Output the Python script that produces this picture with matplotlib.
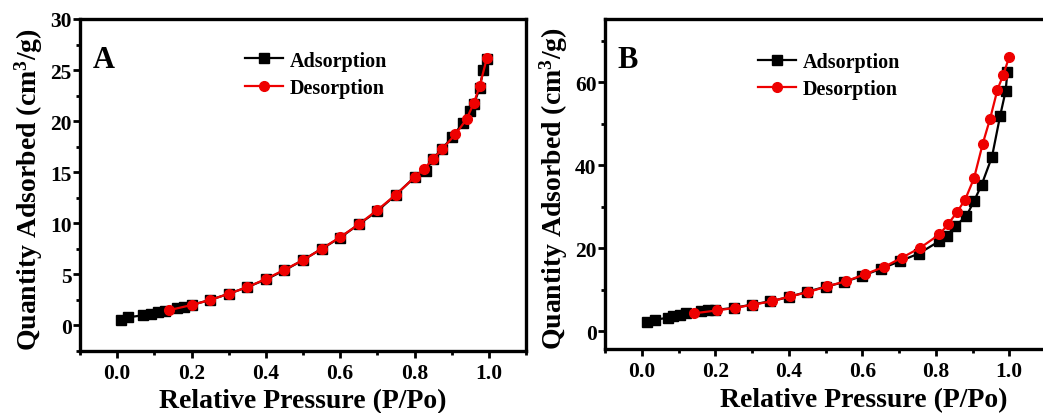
import matplotlib
matplotlib.use("Agg")
import matplotlib.pyplot as plt
from matplotlib.ticker import MultipleLocator

plt.rcParams['font.family'] = ['Liberation Serif', 'DejaVu Serif']
plt.rcParams['font.weight'] = 'bold'
plt.rcParams['mathtext.default'] = 'regular'

# Panel A data
a_ads_x = [0.01, 0.03, 0.07, 0.09, 0.11, 0.13, 0.16, 0.18, 0.20, 0.25, 0.30, 0.35, 0.40, 0.45,
           0.50, 0.55, 0.60, 0.65, 0.70, 0.75, 0.80, 0.83, 0.85, 0.875, 0.90, 0.93, 0.95,
           0.96, 0.975, 0.985, 0.995]
a_ads_y = [0.5, 0.8, 1.0, 1.15, 1.3, 1.45, 1.7, 1.85, 2.0, 2.5, 3.1, 3.75, 4.5, 5.4,
           6.4, 7.5, 8.6, 9.9, 11.2, 12.8, 14.5, 15.1, 16.3, 17.3, 18.4, 19.8, 21.0,
           21.7, 23.2, 25.0, 26.1]
a_des_x = [0.995, 0.975, 0.96, 0.94, 0.91, 0.875, 0.85, 0.825, 0.80, 0.75, 0.70, 0.65,
           0.60, 0.55, 0.50, 0.45, 0.40, 0.35, 0.30, 0.25, 0.20, 0.14]
a_des_y = [26.2, 23.4, 21.8, 20.2, 18.7, 17.3, 16.3, 15.3, 14.5, 12.8, 11.3, 9.9,
           8.65, 7.5, 6.4, 5.45, 4.55, 3.75, 3.1, 2.5, 2.0, 1.5]

# Panel B data
b_ads_x = [0.014, 0.036, 0.072, 0.086, 0.104, 0.12, 0.16, 0.18, 0.20, 0.25, 0.30, 0.35,
           0.40, 0.45, 0.50, 0.55, 0.60, 0.65, 0.704, 0.754, 0.81, 0.83, 0.853, 0.883,
           0.904, 0.925, 0.953, 0.975, 0.99, 0.995]
b_ads_y = [2.2, 2.8, 3.2, 3.6, 4.0, 4.4, 4.8, 5.0, 5.1, 5.6, 6.4, 7.2,
           8.2, 9.5, 10.7, 11.8, 13.3, 15.0, 16.9, 18.7, 21.7, 23.0, 25.3, 27.7,
           31.3, 35.3, 42.0, 51.8, 57.8, 62.4]
b_des_x = [1.0, 0.984, 0.968, 0.948, 0.928, 0.904, 0.88, 0.858, 0.833, 0.81, 0.758,
           0.708, 0.66, 0.607, 0.555, 0.504, 0.453, 0.404, 0.354, 0.304, 0.253, 0.205, 0.143]
b_des_y = [66.1, 61.8, 58.2, 51.2, 45.2, 36.8, 31.7, 28.7, 25.7, 23.3, 20.1,
           17.7, 15.5, 13.7, 12.0, 10.8, 9.4, 8.4, 7.2, 6.4, 5.6, 5.0, 4.3]

W, H = 1043, 414
fig = plt.figure(figsize=(W / 100, H / 100), dpi=100)


def px_axes(left, right, top, bottom):
    return fig.add_axes([left / W, (H - bottom) / H, (right - left) / W, (bottom - top) / H])


def style(ax, ylim, ymaj, ymin, xlab_xy, ylab_x):
    ax.set_xlim(-0.1, 1.1)
    ax.set_ylim(*ylim)
    ax.xaxis.set_major_locator(MultipleLocator(0.2))
    ax.xaxis.set_minor_locator(MultipleLocator(0.1))
    ax.yaxis.set_major_locator(MultipleLocator(ymaj))
    ax.yaxis.set_minor_locator(MultipleLocator(ymin))
    for s in ax.spines.values():
        s.set_linewidth(2.4)
    ax.tick_params(which='major', direction='out', length=5, width=2, labelsize=15.5)
    ax.tick_params(axis='x', which='major', pad=4)
    ax.tick_params(axis='y', which='major', pad=1)
    ax.tick_params(which='minor', direction='out', length=3, width=2)
    for lab in ax.get_xticklabels() + ax.get_yticklabels():
        lab.set_fontweight('bold')
    ax.set_xlabel('Relative Pressure (P/Po)', fontsize=20, fontweight='bold', va='baseline')
    ax.set_ylabel('Quantity Adsorbed (cm$^3$/g)', fontsize=20, fontweight='bold')
    ax.xaxis.set_label_coords(*xlab_xy)
    ax.yaxis.set_label_coords(ylab_x, 0.49)


def plot_panel(ax, ax_x, ax_y, de_x, de_y, letter, leg_anchor):
    ax.plot(ax_x, ax_y, '-s', color='black', lw=1.6, ms=7, label='Adsorption')
    ax.plot(de_x, de_y, '-o', color='#ee0000', lw=1.6, ms=7, label='Desorption')
    ax.text(0.028, 0.855, letter, transform=ax.transAxes, fontsize=22, fontweight='bold',
            va='baseline', ha='left')
    ax.legend(loc='upper left', bbox_to_anchor=leg_anchor, frameon=False, fontsize=14.5,
              handlelength=1.9, handletextpad=0.3, labelspacing=0.35, borderpad=0,
              borderaxespad=0)


axA = px_axes(80, 526, 20, 352)
plot_panel(axA, a_ads_x, a_ads_y, a_des_x, a_des_y, 'A', (0.37, 0.905))
style(axA, (-2.5, 30), 5, 2.5, (0.5, -0.169), -0.078)

axB = px_axes(605, 1046, 20, 350)
plot_panel(axB, b_ads_x, b_ads_y, b_des_x, b_des_y, 'B', (0.347, 0.9))
style(axB, (-4.3, 75.2), 20, 10, ((864 - 605) / 441, -0.173), -0.079)

fig.savefig('out.png', dpi=100)
